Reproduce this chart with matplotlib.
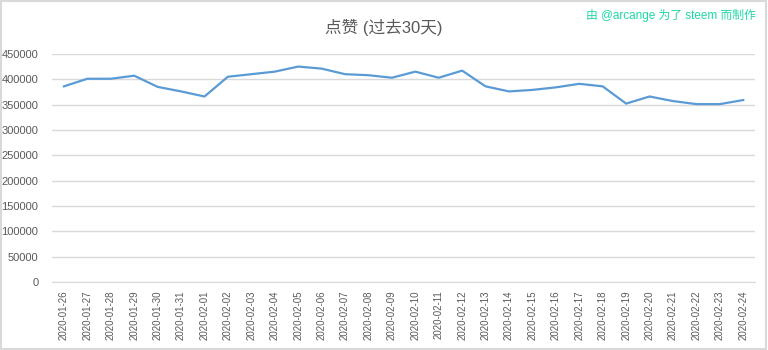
import matplotlib
matplotlib.use("Agg")
import matplotlib.pyplot as plt
from matplotlib.patches import Rectangle

plt.rcParams["font.family"] = ["Liberation Sans", "Noto Sans CJK SC", "DejaVu Sans"]

dates = [
    "2020-01-26", "2020-01-27", "2020-01-28", "2020-01-29", "2020-01-30",
    "2020-01-31", "2020-02-01", "2020-02-02", "2020-02-03", "2020-02-04",
    "2020-02-05", "2020-02-06", "2020-02-07", "2020-02-08", "2020-02-09",
    "2020-02-10", "2020-02-11", "2020-02-12", "2020-02-13", "2020-02-14",
    "2020-02-15", "2020-02-16", "2020-02-17", "2020-02-18", "2020-02-19",
    "2020-02-20", "2020-02-21", "2020-02-22", "2020-02-23", "2020-02-24",
]
upvotes = [
    386000, 401000, 401000, 407000, 385000,
    376000, 366000, 405000, 410000, 415000,
    425000, 421000, 410000, 408000, 403000,
    415000, 403000, 417000, 386000, 376000,
    379000, 384000, 391000, 386000, 352000,
    366000, 357000, 351000, 351000, 359000,
]
yticks = list(range(0, 450001, 50000))

title = "点赞 (过去30天)"
credit = "由 @arcange 为了 steem 而制作"

fig = plt.figure(figsize=(7.68, 3.5), dpi=100)
ax = fig.add_axes([0.068, 0.194, 0.915, 0.652])

x = list(range(len(dates)))
ax.plot(x, upvotes, color="#5b9bd5", linewidth=1.6, zorder=3)

ax.set_xlim(-0.5, len(dates) - 0.5)
ax.set_ylim(0, 450000)
ax.set_yticks(yticks)
ax.set_yticklabels([str(v) for v in yticks], fontsize=8, color="#595959")
ax.set_xticks(x)
ax.set_xticklabels(dates, rotation=90, fontsize=7, color="#595959")
ax.tick_params(axis="both", length=0)
ax.tick_params(axis="y", pad=10)
ax.tick_params(axis="x", pad=6)

ax.grid(axis="y", color="#d9d9d9", linewidth=1)
ax.set_axisbelow(True)
for side in ["top", "right", "left"]:
    ax.spines[side].set_visible(False)
ax.spines["bottom"].set_color("#d9d9d9")

fig.text(0.5, 0.92, title, ha="center", va="center", fontsize=12, color="#595959")
fig.text(0.984, 0.955, credit, ha="right", va="center", fontsize=8.5, color="#1ed8a8")

fig.patches.append(Rectangle((0.001, 0.002), 0.997, 0.995, transform=fig.transFigure,
                             fill=False, edgecolor="#d9d9d9", linewidth=1.5))

fig.savefig("out.png", dpi=100, facecolor="white")
